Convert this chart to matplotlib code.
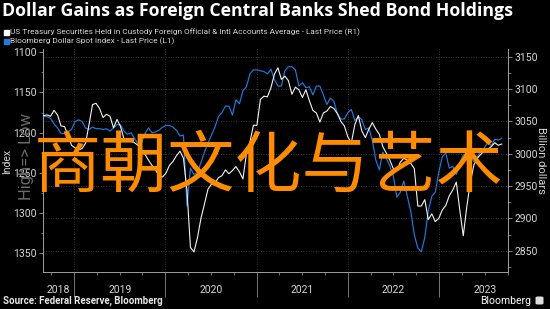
import matplotlib
matplotlib.use('Agg')
import matplotlib.pyplot as plt
import matplotlib.dates as mdates
import matplotlib.transforms as mtransforms
from matplotlib.patches import Rectangle, FancyBboxPatch
from matplotlib.ticker import MultipleLocator, FixedLocator, NullFormatter
import pandas as pd

plt.rcParams['font.family'] = ['Roboto', 'DejaVu Sans']

# ---------------- data ----------------
start_date = '2018-08-31'
sample_step = '14D'

# Bloomberg Dollar Spot Index - Last Price (L1)
dollar_index = [
    1180, 1180, 1182, 1189, 1194, 1201, 1201, 1199, 1196, 1186,
    1184, 1186, 1194, 1196, 1193, 1195, 1195, 1196, 1195, 1198,
    1194, 1190, 1190, 1198, 1202, 1200, 1207, 1214, 1213, 1201,
    1194, 1200, 1199, 1197, 1193, 1191, 1191, 1193, 1197, 1204,
    1203, 1291, 1244, 1252, 1249, 1237, 1224, 1213, 1203, 1193,
    1180, 1175, 1167, 1167, 1178, 1159, 1164, 1148, 1143, 1127,
    1122, 1122, 1123, 1124, 1127, 1121, 1134, 1142, 1142, 1123,
    1118, 1118, 1122, 1142, 1138, 1144, 1143, 1153, 1142, 1142,
    1153, 1165, 1157, 1161, 1176, 1183, 1183, 1175, 1171, 1185,
    1180, 1184, 1196, 1194, 1210, 1234, 1246, 1224, 1232, 1241,
    1254, 1280, 1274, 1260, 1279, 1298, 1327, 1343, 1348, 1330,
    1297, 1279, 1274, 1249, 1230, 1225, 1244, 1242, 1252, 1237,
    1228, 1225, 1228, 1236, 1230, 1223, 1219, 1212, 1216, 1208,
    1209, 1207,
]

# US Treasury Securities Held in Custody Foreign Official & Intl Accounts Average (R1), $bn
treasury_holdings = [
    3059, 3060, 3058, 3067, 3060, 3043, 3042, 3028, 3013, 3009,
    3006, 3008, 3016, 3045, 3076, 3078, 3070, 3056, 3061, 3058,
    3040, 3053, 3042, 3023, 3020, 3019, 3017, 3013, 3006, 2999,
    2990, 2982, 2975, 2966, 2964, 2970, 2982, 2988, 2997, 3004,
    2993, 2943, 2855, 2848, 2870, 2900, 2922, 2945, 2953, 2954,
    2963, 2966, 2975, 2969, 2974, 2980, 2972, 2961, 3000, 3018,
    3044, 3044, 3084, 3089, 3088, 3102, 3123, 3133, 3115, 3120,
    3113, 3092, 3103, 3099, 3087, 3099, 3082, 3067, 3063, 3049,
    3063, 3066, 3073, 3070, 3062, 3050, 3043, 3026, 3017, 3045,
    3059, 3035, 3025, 3038, 3048, 3038, 3030, 3011, 3001, 2990,
    2977, 2974, 2987, 2993, 2990, 2985, 2977, 2919, 2919, 2929,
    2898, 2907, 2895, 2900, 2913, 2920, 2935, 2944, 2956, 2913,
    2873, 2918, 2955, 2982, 2993, 2999, 3004, 3007, 3011, 3017,
    3013, 3015,
]

left_ticks = [1100, 1150, 1200, 1250, 1300, 1350]
right_ticks = [2850, 2900, 2950, 3000, 3050, 3100, 3150]
year_labels = ['2018', '2019', '2020', '2021', '2022', '2023']
year_label_dates = ['2018-10-30', '2019-07-02', '2020-07-02', '2021-07-02', '2022-07-02', '2023-07-02']
year_starts = ['2019-01-01', '2020-01-01', '2021-01-01', '2022-01-01', '2023-01-01']

title = 'Dollar Gains as Foreign Central Banks Shed Bond Holdings'
legend_r1 = 'US Treasury Securities Held in Custody Foreign Official & Intl Accounts Average - Last Price (R1)'
legend_l1 = 'Bloomberg Dollar Spot Index - Last Price (L1)'

dates = pd.date_range(start_date, periods=len(dollar_index), freq=sample_step)

# ---------------- figure ----------------
W, H = 550, 309
fig = plt.figure(figsize=(W / 100, H / 100), dpi=100, facecolor='black')
renderer = fig.canvas.get_renderer()

def fx(px):
    return px / W

def fy(py):
    return 1 - py / H

def fit_width(txt, target_px):
    w = txt.get_window_extent(renderer=renderer).width
    txt.set_fontsize(txt.get_fontsize() * target_px / w)

L, R, T, B = 42.8, 508, 49, 272
ax = fig.add_axes([fx(L), fy(B), fx(R - L), (B - T) / H])
ax.set_facecolor('black')
ax2 = ax.twinx()

BLUE = '#1f7ae0'
WHITE = '#f2f2f2'
TICKC = '#9a9a9a'
LABC = '#d6d6d6'
GRIDC = '#4a4a4a'

ax.plot(dates, dollar_index, color=BLUE, lw=0.85, zorder=3)
ax2.plot(dates, treasury_holdings, color=WHITE, lw=0.8, zorder=3)

ax.set_xlim(pd.Timestamp('2018-08-28'), pd.Timestamp('2023-10-03'))
ax.set_ylim(1373, 1096)  # inverted: High => Low
ax2.set_ylim(2817, 3162)

# y ticks
ax.yaxis.set_major_locator(FixedLocator(left_ticks))
ax.yaxis.set_minor_locator(MultipleLocator(25))
ax2.yaxis.set_major_locator(FixedLocator(right_ticks))
ax2.yaxis.set_minor_locator(MultipleLocator(25))
for a in (ax, ax2):
    a.tick_params(axis='y', which='major', direction='out', length=3, width=0.6,
                  color=TICKC, labelcolor=LABC, labelsize=7.5, pad=1.5)
    a.tick_params(axis='y', which='minor', direction='out', length=1.8, width=0.5, color=TICKC)

# x ticks: long year separators + quarter minor ticks
ax.xaxis.set_major_locator(FixedLocator(mdates.date2num(pd.to_datetime(year_starts))))
ax.xaxis.set_major_formatter(NullFormatter())
ax.xaxis.set_minor_locator(mdates.MonthLocator(bymonth=[1, 4, 7, 10]))
ax.xaxis.set_minor_formatter(NullFormatter())
ax.tick_params(axis='x', which='major', direction='out', length=18, width=0.6, color='#8a8a8a')
ax.tick_params(axis='x', which='minor', direction='out', length=2.5, width=0.5, color=TICKC)
ax2.tick_params(axis='x', which='both', length=0)

# grids
ax.grid(axis='x', which='major', linestyle=(0, (1, 2)), color=GRIDC, linewidth=0.6)
ax2.grid(axis='y', which='major', linestyle=(0, (1, 2)), color=GRIDC, linewidth=0.6)
ax.set_axisbelow(True)

for a in (ax, ax2):
    a.spines['top'].set_visible(False)
    for s in ('left', 'right', 'bottom'):
        a.spines[s].set_color(TICKC)
        a.spines[s].set_linewidth(0.7)

# year labels
trans = mtransforms.blended_transform_factory(ax.transData, fig.transFigure)
for lab, d in zip(year_labels, year_label_dates):
    ax.text(mdates.date2num(pd.Timestamp(d)), fy(290), lab, transform=trans,
            ha='center', va='center', fontsize=7.5, color=LABC, clip_on=False)

# axis labels
fig.text(fx(7.5), fy(161), 'Index', rotation=90, ha='center', va='center', fontsize=7.5, color=LABC)
fig.text(fx(26), fy(157), 'High=> Low', rotation=90, ha='center', va='center', fontsize=12,
         color='#6a6a6a', zorder=0.5)
fig.text(fx(541), fy(160), 'Billion dollars', rotation=270, ha='center', va='center', fontsize=8, color=LABC)

# title and legend
t_title = fig.text(fx(2), fy(11.5), title, ha='left', va='center', fontsize=12.5, fontweight='bold',
                   color='white', family=['Open Sans', 'DejaVu Sans'])
fit_width(t_title, 510)
fig.patches.append(Rectangle((fx(4), fy(35)), 5 / W, 5 / H, transform=fig.transFigure, color='white'))
t_r1 = fig.text(fx(10.5), fy(32.5), legend_r1, ha='left', va='center', fontsize=5.6, color=LABC)
fit_width(t_r1, 351)
fig.patches.append(Rectangle((fx(4), fy(44)), 5 / W, 5 / H, transform=fig.transFigure, color=BLUE))
fig.text(fx(10.5), fy(41.5), legend_l1, ha='left', va='center', fontsize=t_r1.get_fontsize(), color=LABC)

# footer
t_src = fig.text(fx(3), fy(301), 'Source: Federal Reserve, Bloomberg', ha='left', va='center',
                 fontsize=6, fontweight='bold', color='#e6e6e6')
fit_width(t_src, 162)
fig.text(fx(531), fy(300.5), 'Bloomberg', ha='right', va='center', fontsize=7.5, color='white')
fig.patches.append(FancyBboxPatch((fx(535.5), fy(304.5)), 8 / W, 8 / H, boxstyle='round,pad=0,rounding_size=0.004',
                                  transform=fig.transFigure, facecolor='#dddddd', edgecolor='none'))

# watermark
fig.text(fx(268.5), fy(168), '商朝文化与艺术', ha='center', va='center', fontsize=48.3,
         color='#FF8C00', family=['Noto Sans CJK SC', 'DejaVu Sans'], zorder=10)

fig.savefig('out.png', dpi=100, facecolor='black')
